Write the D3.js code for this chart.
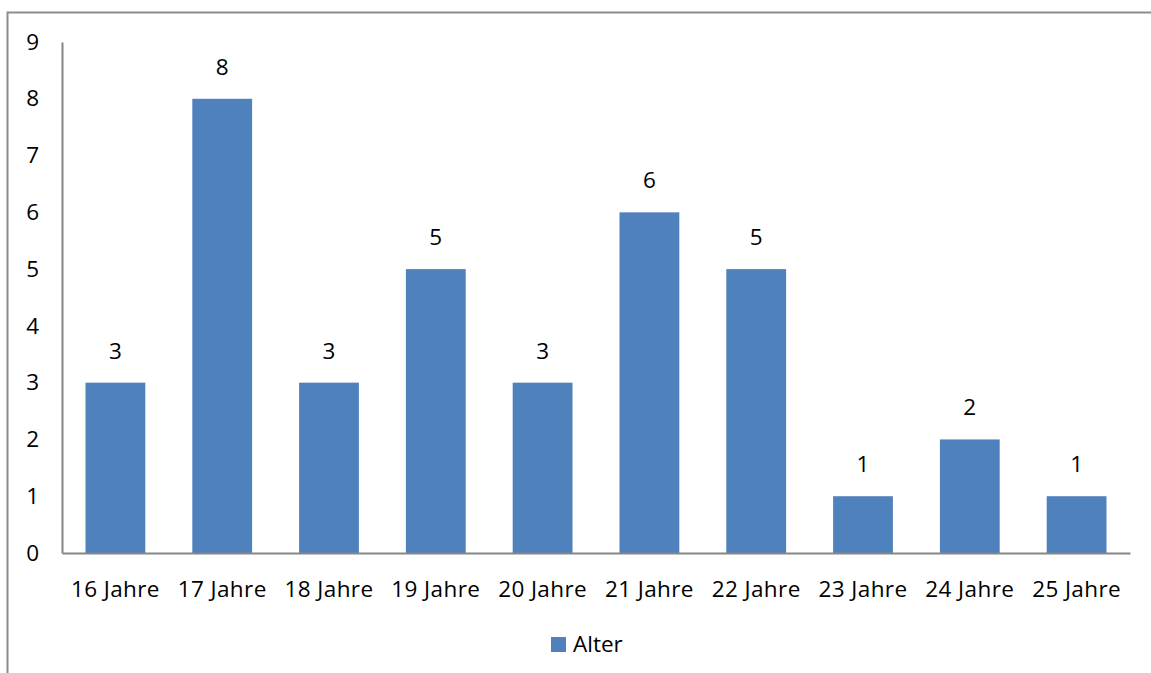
<!DOCTYPE html>
<html><head><meta charset="utf-8">
<script src="https://cdn.jsdelivr.net/npm/d3@7"></script>
<style>
html,body{margin:0;padding:0;background:#fff;}
svg{display:block;font-family:"Open Sans",sans-serif;}
</style></head>
<body>
<svg id="c" width="1151" height="673"></svg>
<script>
const categories = ["16 Jahre","17 Jahre","18 Jahre","19 Jahre","20 Jahre","21 Jahre","22 Jahre","23 Jahre","24 Jahre","25 Jahre"];
const values = [3,8,3,5,3,6,5,1,2,1];
const yTicks = [0,1,2,3,4,5,6,7,8,9];
const seriesName = "Alter";

(function(){
const svg = d3.select("#c");
const color = "#4F81BD";
const axisColor = "#868686";
const fs = 22.5;
const ff = "Open Sans";

svg.append("rect").attr("x",7.5).attr("y",12.5).attr("width",1200).attr("height",700)
  .attr("fill","none").attr("stroke","#8c8c8c").attr("stroke-width",2);

const pLeft = 62, pRight = 1130, pTop = 42, pBottom = 553;
const x = d3.scaleBand().domain(categories).range([pLeft,pRight]).paddingInner(0.44).paddingOuter(0.22);
const y = d3.scaleLinear().domain([0,9]).range([pBottom,pTop]);

svg.selectAll("rect.bar").data(values).join("rect").attr("class","bar")
  .attr("x",(d,i)=>x(categories[i])).attr("width",x.bandwidth())
  .attr("y",d=>y(d)).attr("height",d=>y(0)-y(d)).attr("fill",color);

const yAxis = svg.append("g").attr("transform",`translate(${pLeft},0)`)
  .call(d3.axisLeft(y).tickValues(yTicks).tickSize(0).tickPadding(23));
yAxis.select(".domain").attr("stroke",axisColor).attr("stroke-width",2);
yAxis.selectAll("text").attr("font-size",fs).attr("fill","#000").attr("font-family",ff);

const xAxis = svg.append("g").attr("transform",`translate(0,${pBottom})`)
  .call(d3.axisBottom(x).tickSize(0).tickPadding(28));
xAxis.select(".domain").attr("stroke",axisColor).attr("stroke-width",2);
xAxis.selectAll("text").attr("font-size",fs).attr("fill","#000").attr("font-family",ff).attr("letter-spacing",0.4);

svg.selectAll("text.lbl").data(values).join("text").attr("class","lbl")
  .attr("x",(d,i)=>x(categories[i])+x.bandwidth()/2).attr("y",d=>y(d)-24)
  .attr("text-anchor","middle").attr("font-size",fs).attr("fill","#000").text(d=>d);

const lg = svg.append("g").attr("transform","translate(551,637)");
lg.append("rect").attr("width",15).attr("height",15).attr("fill",color);
lg.append("text").attr("x",22).attr("y",15).attr("font-size",fs).attr("fill","#000").text(seriesName);
})();
</script>
</body></html>
